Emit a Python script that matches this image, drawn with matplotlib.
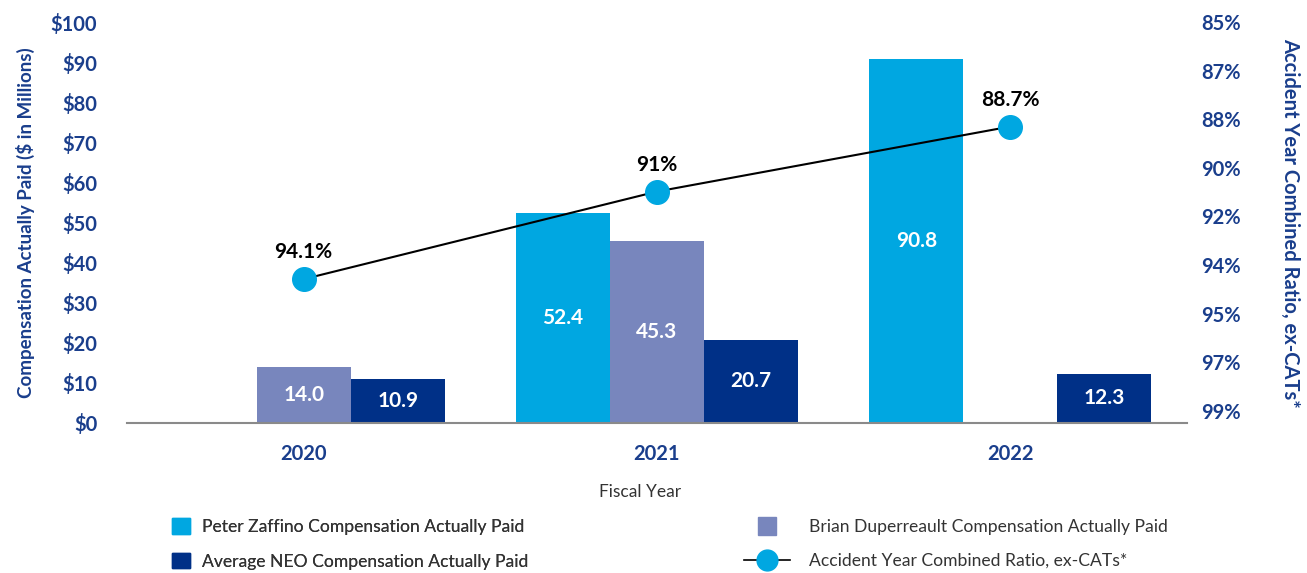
import matplotlib
matplotlib.use("Agg")
import matplotlib.pyplot as plt
import numpy as np
from matplotlib.lines import Line2D
from matplotlib.patches import Patch

plt.rcParams['font.family'] = ['Lato', 'DejaVu Sans']

years = ["2020", "2021", "2022"]
zaffino = [np.nan, 52.4, 90.8]
duperreault = [14.0, 45.3, np.nan]
avg_neo = [10.9, 20.7, 12.3]
ratio = [94.1, 91.0, 88.7]
ratio_labels = ["94.1%", "91%", "88.7%"]
left_ticks = [0, 10, 20, 30, 40, 50, 60, 70, 80, 90, 100]
right_ticks = [85, 86.72, 88.44, 90.16, 91.88, 93.6, 95.32, 97.04, 98.76]
right_tick_labels = ["85%", "87%", "88%", "90%", "92%", "94%", "95%", "97%", "99%"]

C_Z = "#00A7E1"
C_D = "#7886BD"
C_A = "#003087"
NAVY = "#1A3E8C"

fig = plt.figure(figsize=(13.07, 5.73), dpi=100)
ax = fig.add_axes([127/1307, 1-423/573, (1187-127)/1307, (423-22)/573])
x = np.arange(len(years))
w = 0.266

series = [(zaffino, C_Z, -w), (duperreault, C_D, 0), (avg_neo, C_A, w)]
for vals, col, off in series:
    for xi, v in zip(x, vals):
        if np.isnan(v):
            continue
        ax.bar(xi + off, v, width=w, color=col, zorder=2)
        ax.text(xi + off, v / 2, f"{v:.1f}", ha="center", va="center",
                color="white", fontsize=15, fontweight="bold", zorder=3)

ax.set_xlim(-0.5, 2.5)
ax.set_ylim(0, 100)
ax.set_yticks(left_ticks)
ax.set_yticklabels([f"${t}" for t in left_ticks])
ax.set_xticks(x)
ax.set_xticklabels(years)
for s in ["top", "right", "left"]:
    ax.spines[s].set_visible(False)
ax.spines["bottom"].set_color("#8a8a8a")
ax.spines["bottom"].set_linewidth(1.5)
ax.tick_params(axis="both", length=0, labelsize=14.5, labelcolor=NAVY)
for lab in ax.get_xticklabels() + ax.get_yticklabels():
    lab.set_fontweight("bold")
ax.tick_params(axis="x", pad=15)
ax.tick_params(axis="y", pad=21.5)
ax.set_ylabel("Compensation Actually Paid ($ in Millions)", color=NAVY,
              fontsize=13.5, fontweight="bold", labelpad=11)

ax2 = ax.twinx()
ax2.set_ylim(85 + 401 * 1.72 / 48.6, 85)
ax2.set_yticks(right_ticks)
ax2.set_yticklabels(right_tick_labels)
for s in ["top", "right", "left", "bottom"]:
    ax2.spines[s].set_visible(False)
ax2.tick_params(axis="y", length=0, labelsize=14.5, labelcolor=NAVY, pad=10)
for lab in ax2.get_yticklabels():
    lab.set_fontweight("bold")
ax2.plot(x, ratio, color="black", lw=1.5, marker="o", markersize=17,
         markerfacecolor=C_Z, markeredgecolor=C_Z, zorder=5)
for xi, r, lab in zip(x, ratio, ratio_labels):
    ax2.annotate(lab, (xi, r), xytext=(0, 12), textcoords="offset points",
                 ha="center", va="bottom", fontsize=15, fontweight="bold",
                 color="black")
ax2.set_ylabel("Accident Year Combined Ratio, ex-CATs*", color=NAVY,
               fontsize=14.5, fontweight="bold", rotation=-90, labelpad=43)

fig.text(640/1307, 1-492/573, "Fiscal Year", ha="center", va="center",
         color="#333333", fontsize=12.5)

h1 = [Patch(color=C_Z), Patch(color=C_A)]
l1 = ["Peter Zaffino Compensation Actually Paid",
      "Average NEO Compensation Actually Paid"]
leg1 = fig.legend(h1, l1, loc="center left",
                  bbox_to_anchor=(172/1307, 1-544/573), frameon=False,
                  fontsize=12.6, labelcolor="#333333",
                  handlelength=1.0, handleheight=1.0, handletextpad=0.7,
                  labelspacing=1.0, borderaxespad=0, borderpad=0)
h2 = [Line2D([], [], ls="none", marker="s", markersize=12.5, color=C_D),
      Line2D([], [], color="black", lw=1.2, marker="o", markersize=15,
             markerfacecolor=C_Z, markeredgecolor=C_Z)]
l2 = ["Brian Duperreault Compensation Actually Paid",
      "Accident Year Combined Ratio, ex-CATs*"]
leg2 = fig.legend(h2, l2, loc="center left",
                  bbox_to_anchor=(744/1307, 1-544/573), frameon=False,
                  fontsize=12.6, labelcolor="#333333",
                  handlelength=2.6, handletextpad=1.1,
                  labelspacing=1.0, borderaxespad=0, borderpad=0)
fig.add_artist(leg1)

fig.savefig("out.png", dpi=100)
